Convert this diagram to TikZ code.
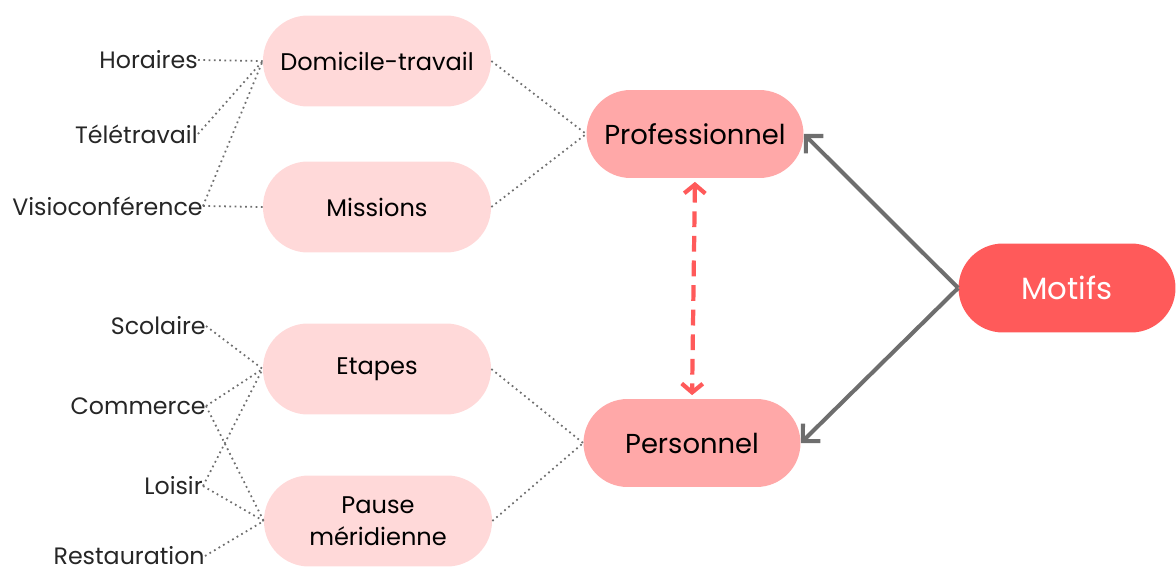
\documentclass[tikz,border=0pt]{standalone}
\usepackage{xcolor}
\usepackage{fontspec}
\setmainfont{Poppins}
\usepackage{tikz}
\usetikzlibrary{arrows.meta}

\definecolor{palepink}{HTML}{FFD9D9}
\definecolor{midpink}{HTML}{FFA8A8}
\definecolor{motifred}{HTML}{FF5A5A}
\definecolor{linegray}{HTML}{6E6E6E}

\tikzset{
  leaf/.style={rectangle, rounded corners=0.9cm, fill=palepink, minimum width=4.56cm, minimum height=1.82cm, font=\fontsize{13.7}{18}\selectfont, align=center},
  hub/.style={rectangle, rounded corners=0.88cm, fill=midpink, minimum width=4.34cm, minimum height=1.76cm, font=\fontsize{15.6}{18}\selectfont},
  tag/.style={anchor=east, inner sep=0pt, font=\fontsize{13.5}{15}\selectfont, text=black!85},
  link/.style={dotted, line width=1pt, color=linegray}
}

\begin{document}
\begin{tikzpicture}[x=0.02cm,y=-0.02cm]
  \useasboundingbox (0,0) rectangle (1176,574);

  \node[leaf] (dom) at (377,61) {Domicile-travail};
  \node[leaf] (mis) at (377,207) {Missions};
  \node[leaf] (eta) at (377,369) {Etapes};
  \node[leaf] (pau) at (378,521) {Pause\\m\'eridienne};

  \node[hub] (pro) at (695,134) {Professionnel};
  \node[hub] (per) at (692,443) {Personnel};

  \node[rectangle, rounded corners=0.89cm, fill=motifred, minimum width=4.34cm, minimum height=1.78cm,
        text=white, font=\fontsize{17.5}{20}\selectfont] (mot) at (1067,288) {Motifs};

  % left labels
  \node[tag] (hor) at (198,60) {Horaires};
  \node[tag] (tel) at (198,134) {T\'el\'etravail};
  \node[tag] (vis) at (203,206) {Visioconf\'erence};
  \node[tag] (sco) at (206,326) {Scolaire};
  \node[tag] (com) at (206,406) {Commerce};
  \node[tag] (loi) at (203,486) {Loisir};
  \node[tag] (res) at (205,556) {Restauration};

  \draw[link] (hor.east) -- (dom.west);
  \draw[link] (tel.east) -- (dom.west);
  \draw[link] (vis.east) -- (dom.west);
  \draw[link] (vis.east) -- (mis.west);

  \draw[link] (sco.east) -- (eta.west);
  \draw[link] (com.east) -- (eta.west);
  \draw[link] (com.east) -- (pau.west);
  \draw[link] (loi.east) -- (eta.west);
  \draw[link] (loi.east) -- (pau.west);
  \draw[link] (res.east) -- (pau.west);

  \draw[link] (dom.east) -- (pro.west);
  \draw[link] (mis.east) -- (pro.west);
  \draw[link] (eta.east) -- (per.west);
  \draw[link] (pau.east) -- (per.west);

  % arrows
  \draw[line width=2.3pt, color=linegray, -{Straight Barb[length=7pt,width=14pt,line width=2.3pt]}] (mot.west) -- (pro.east);
  \draw[line width=2.3pt, color=linegray, -{Straight Barb[length=7pt,width=14pt,line width=2.3pt]}] (mot.west) -- (per.east);

  \draw[line width=2.4pt, color=motifred, dash pattern=on 9pt off 5pt, {Straight Barb[length=5pt,width=12pt,line width=2.4pt]}-{Straight Barb[length=5pt,width=12pt,line width=2.4pt]}, shorten <=2pt, shorten >=2pt] (pro.south) -- (per.north);
\end{tikzpicture}
\end{document}
